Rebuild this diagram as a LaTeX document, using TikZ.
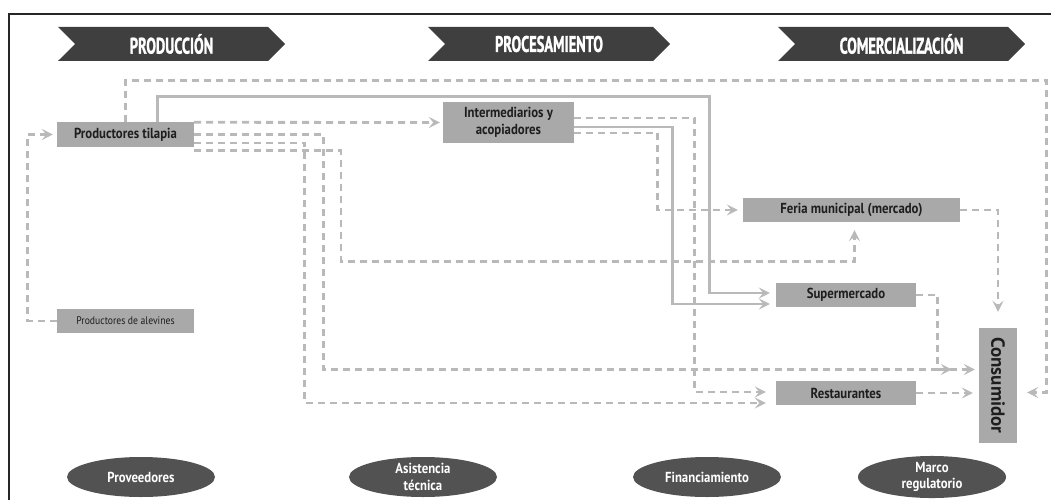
\documentclass[tikz,border=0pt]{standalone}
\usepackage{fontspec}
\setmainfont[FakeStretch=0.88]{PT Sans}
\newfontfamily\stagefont[FakeStretch=0.64, BoldFeatures={FakeBold=1.2}]{PT Sans}
\newfontfamily\widefont{PT Sans}
\usetikzlibrary{calc,arrows.meta,shapes.geometric,shapes.symbols}
\definecolor{chevgray}{HTML}{3F3F3F}
\definecolor{ovalgray}{HTML}{525252}
\definecolor{boxgray}{HTML}{A9A9A9}
\definecolor{linegray}{HTML}{B9B9B9}
\definecolor{inkgray}{HTML}{1E1E1E}
\tikzset{
  stage/.style={signal, signal to=east, signal from=west, fill=chevgray, text=white,
    minimum height=34pt, inner sep=0pt, font=\stagefont\bfseries\fontsize{22.5}{22.5}\selectfont},
  actor/.style={fill=boxgray, text=inkgray, inner sep=0pt, minimum height=24pt,
    font=\bfseries\fontsize{14.5}{16}\selectfont},
  support/.style={ellipse, fill=ovalgray, text=white, inner sep=0pt, minimum width=148pt,
    minimum height=40pt, align=center, font=\bfseries\fontsize{14.5}{16.5}\selectfont},
  flow/.style={draw=linegray, line width=2.8pt, dash pattern=on 7pt off 5pt,
    -{Stealth[length=11pt,width=11pt,inset=4.5pt]}},
  mainflow/.style={draw=linegray, line width=2.8pt, -{Stealth[length=11pt,width=11pt,inset=4.5pt]}},
}

\begin{document}
\begin{tikzpicture}[x=1pt,y=-1pt]
  \useasboundingbox (0,0) rectangle (1051,500);
  % frame
  \draw[line width=2pt, black!85] (9,500) -- (9,14) -- (1051,14);

  % stages
  \node[stage, minimum width=227pt] (prod) at (171.5,44) {PRODUCCIÓN};
  \node[stage, minimum width=242pt] (proc) at (549,44) {PROCESAMIENTO};
  \node[stage, minimum width=247pt] (comer) at (901.5,44) {COMERCIALIZACIÓN};

  % actors
  \node[actor, minimum width=137pt] (tila) at (125.5,134.5) {Productores tilapia};
  \node[actor, minimum width=137pt, font=\fontsize{11}{12}\selectfont] (alev) at (125.5,321) {Productores de alevines};
  \node[actor, minimum width=131pt, minimum height=41pt, align=center,
    font=\bfseries\fontsize{14.5}{17}\selectfont] (inter) at (508.5,122.5) {Intermediarios y\\acopiadores};
  \node[actor, minimum width=217pt] (feria) at (851.5,210) {Feria municipal (mercado)};
  \node[actor, minimum width=140pt] (super) at (846,295) {Supermercado};
  \node[actor, minimum width=140pt] (rest) at (846,393) {Restaurantes};
  \node[actor, minimum width=38pt, minimum height=115pt,
    font=\widefont\bfseries\fontsize{19}{19}\selectfont] (cons) at (998,385.5) {\rotatebox{-90}{Consumidor}};

  % supports
  \node[support] (prov) at (141,477) {Proveedores};
  \node[support] (asis) at (423,477) {Asistencia\\técnica};
  \node[support] (fin) at (707,477) {Financiamiento};
  \node[support] (marco) at (932,477) {Marco\\regulatorio};

  % flows
  \draw[flow, shorten >=4pt] (alev.west) -- ++(-29,0) |- (tila.west);
  \draw[flow, shorten >=3pt] (tila.north east) -- (inter.west);
  \draw[flow, shorten >=10pt] (tila.north) -- ++(0,-42) -| ($(cons.east)+(29,7)$) -- ($(cons.east)+(0,7)$);
  \draw[mainflow, shorten >=6pt] ($(tila.north)+(32,0)$) -- ++(0,-26) -| ($(super.west)+(-66,-2)$) -- ($(super.west)+(0,-2)$);
  \draw[mainflow, shorten >=6pt] ($(inter.east)+(0,4.5)$) -| ($(super.west)+(-103,9)$) -- ($(super.west)+(0,9)$);
  \draw[flow, shorten >=10pt] ($(inter.east)+(0,-4.5)$) -| ($(rest.west)+(-81,-1)$) -- ($(rest.west)+(0,-1)$);
  \draw[flow, shorten >=5pt] ($(inter.east)+(0,10.5)$) -| ($(feria.west)+(-85,0)$) -- (feria.west);
  \draw[flow, shorten >=27pt] (tila.east) -| ($(cons.west)+(-655,-16)$) -- ($(cons.west)+(0,-16)$);
  \draw[flow, shorten >=10pt] ($(tila.east)+(0,8.5)$) -| ($(rest.west)+(-471,10)$) -- ($(rest.west)+(0,10)$);
  \draw[flow, shorten >=8pt] ($(tila.south east)+(0,4)$) -| ($(feria.south)+(-510.5,39)$) -| ($(feria.south)+(3,0)$);
  \draw[flow, shorten >=4pt] (super.east) -| ($(cons.west)+(-41,-16)$) -- ($(cons.west)+(0,-16)$);
  \draw[flow, shorten >=16pt] (feria.east) -| (cons.north);
  \draw[flow, shorten >=6pt] (rest.east) -- (rest.east -| cons.west);
\end{tikzpicture}
\end{document}
